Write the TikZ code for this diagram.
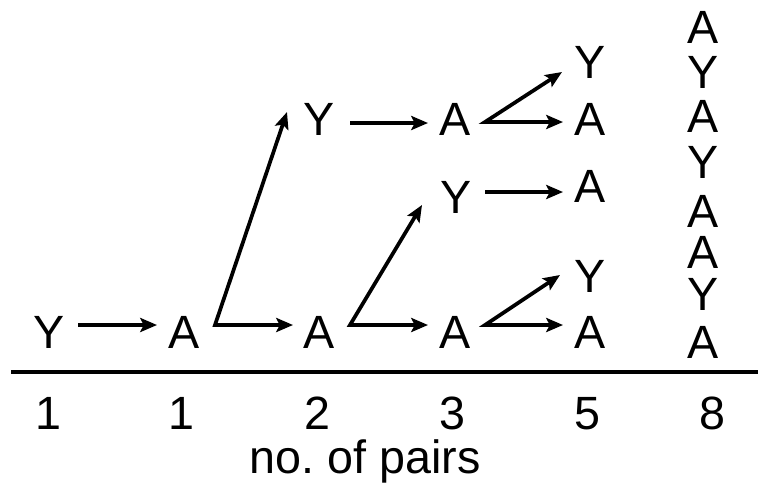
\documentclass[tikz,border=0pt]{standalone}
\usepackage{fontspec}
\setmainfont{Liberation Sans}
\usetikzlibrary{arrows.meta}
\frenchspacing
\begin{document}
\begin{tikzpicture}[x=0.75pt,y=-0.75pt,
  lbl/.style={inner sep=0pt,outer sep=0pt,anchor=base,font=\fontsize{35}{40}\selectfont},
  tip/.tip={Stealth[length=12.5pt,width=10.5pt,inset=2.5pt]},
  arr/.style={line width=2.8pt,-tip},
  arrb/.style={line width=2.8pt,tip-tip,line join=miter}]
\useasboundingbox (0,0) rectangle (758,487);
% bottom row
\node[lbl] (Y1) at (49,348) {Y};
\node[lbl] (A1) at (184,348) {A};
\node[lbl] (A2) at (319,348) {A};
\node[lbl] (A3) at (455,348) {A};
\node[lbl] (A4) at (590,348) {A};
% upper nodes
\node[lbl] (Yu) at (319,135) {Y};
\node[lbl] (Au) at (455,135) {A};
\node[lbl] (Aru) at (590,135) {A};
\node[lbl] (Ytr) at (590,78) {Y};
\node[lbl] (Ym) at (456,213) {Y};
\node[lbl] (Amr) at (590,202) {A};
\node[lbl] (Ylr) at (590,292) {Y};
% column
\node[lbl] (c1) at (703,43) {A};
\node[lbl] (c2) at (703,88) {Y};
\node[lbl] (c3) at (703,132) {A};
\node[lbl] (c4) at (703,178) {Y};
\node[lbl] (c5) at (703,227) {A};
\node[lbl] (c6) at (703,268) {A};
\node[lbl] (c7) at (703,310) {Y};
\node[lbl] (c8) at (703,358) {A};
% axis
\coordinate (L0) at (11,371.5);
\coordinate (L1) at (758,371.5);
\draw[line width=3pt] (L0) -- (L1);
\node[lbl] (n1) at (48,429) {1};
\node[lbl] (n2) at (181,429) {1};
\node[lbl] (n3) at (317,429) {2};
\node[lbl] (n4) at (452,429) {3};
\node[lbl] (n5) at (587,429) {5};
\node[lbl] (n6) at (712,429) {8};
\node[lbl] (cap) at (365,473) {no. of pairs};
% arrows
\draw[arr] ([shift={(29,-23)}]Y1.base) -- ([shift={(-27,-23)}]A1.base);
\draw[arrb] ([shift={(-32,-23)}]Yu.base) -- ([shift={(31,-23)}]A1.base) -- ([shift={(-26,-23)}]A2.base);
\draw[arrb] ([shift={(-34,-8)}]Ym.base) -- ([shift={(31,-23)}]A2.base) -- ([shift={(-27,-23)}]A3.base);
\draw[arrb] ([shift={(-30,-17)}]Ylr.base) -- ([shift={(30,-23)}]A3.base) -- ([shift={(-27,-23)}]A4.base);
\draw[arr] ([shift={(31,-12)}]Yu.base) -- ([shift={(-27,-12)}]Au.base);
\draw[arrb] ([shift={(-28,-6)}]Ytr.base) -- ([shift={(30,-13)}]Au.base) -- ([shift={(-27,-13)}]Aru.base);
\draw[arr] ([shift={(29,-21)}]Ym.base) -- ([shift={(-27,-10)}]Amr.base);
\end{tikzpicture}
\end{document}
